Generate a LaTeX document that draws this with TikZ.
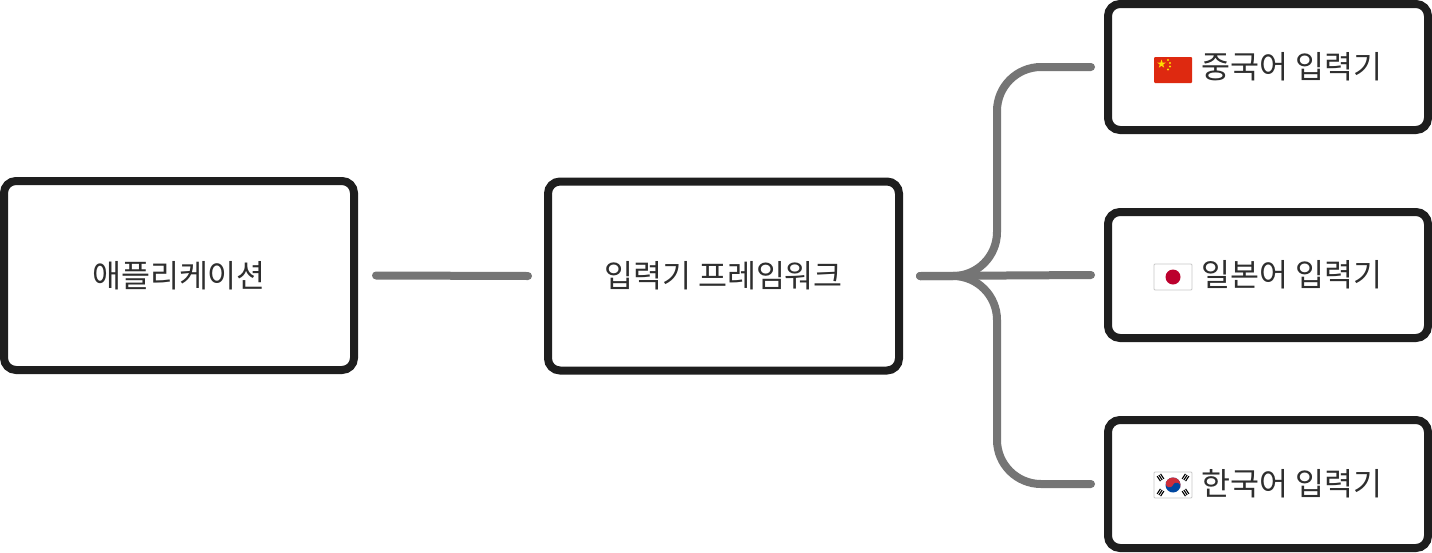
\documentclass[tikz,border=0pt]{standalone}
\usepackage{fontspec}
\setmainfont{Noto Sans CJK KR}
\usetikzlibrary{shapes.geometric}
\definecolor{boxline}{HTML}{1E1E1E}
\definecolor{conncol}{HTML}{757575}
\definecolor{txtcol}{HTML}{2E2E2E}
\definecolor{cnred}{HTML}{DE2910}
\definecolor{cnyel}{HTML}{FFDE00}
\definecolor{jpred}{HTML}{BC002D}
\definecolor{krred}{HTML}{CD2E3A}
\definecolor{krblue}{HTML}{0047A0}
\definecolor{flagedge}{HTML}{C8C8C8}
\newcommand{\krtrigram}[3]{%
  \begin{scope}[shift={(#1,#2)},rotate=#3]
    \fill[black] (-3,-2.6) rectangle (3,-1.5);
    \fill[black] (-3,-0.55) rectangle (3,0.55);
    \fill[black] (-3,1.5) rectangle (3,2.6);
  \end{scope}}
\begin{document}
\begin{tikzpicture}[x=1pt,y=-1pt,
  box/.style={draw=boxline, line width=8pt, rounded corners=12pt, fill=white,
    text=txtcol, font=\fontsize{31.5}{38}\selectfont, inner sep=0pt},
  bigbox/.style={box, minimum width=350pt, minimum height=189pt},
  langbox/.style={box, minimum width=320pt, minimum height=126pt},
  conn/.style={draw=conncol, line width=8pt, line cap=round},
  branch/.style={conn, rounded corners=44pt},
  flagrect/.style={line width=0.8pt, rounded corners=1pt}]
\useasboundingbox (0,0) rectangle (1432,552);
\fill[white] (0,0) rectangle (1432,552);

\node[bigbox] (app) at (179,275.5) {애플리케이션};
\node[bigbox, minimum width=351pt] (ime) at (723.5,276) {입력기 프레임워크};
\node[langbox] (cn) at (1268,67) {\hspace{48pt}중국어 입력기};
\node[langbox] (jp) at (1268,275) {\hspace{48pt}일본어 입력기};
\node[langbox, minimum height=128pt] (kr) at (1268,484) {\hspace{48pt}한국어 입력기};

% connectors
\draw[conn] ([xshift=18pt]app.east) -- ([xshift=-16pt]ime.west);
\coordinate (start) at ([xshift=17pt]ime.east);
\coordinate (trunk) at (997,276);
\coordinate (cnend) at ([xshift=-13pt]cn.west);
\coordinate (jpend) at ([xshift=-13pt]jp.west);
\coordinate (krend) at ([xshift=-13pt]kr.west);
\draw[branch] (start) -- (trunk |- start) -- (trunk |- cnend) -- (cnend);
\draw[branch] (start) -- (trunk |- start) -- (trunk |- krend) -- (krend);
\draw[conn] (start) -- (jpend);

% China flag
\begin{scope}[shift={(1173,70)}]
  \fill[cnred, flagrect] (-19,-13) rectangle (19,13);
  \node[star, star points=5, star point ratio=2.6, fill=cnyel, inner sep=0pt, minimum size=9pt] (cnstar) at (-11.5,-6) {};
  \fill[cnyel] (-5,-10) circle (1.1);
  \fill[cnyel] (-3,-7) circle (1.1);
  \fill[cnyel] (-3,-3.5) circle (1.1);
  \fill[cnyel] (-5,-0.5) circle (1.1);
\end{scope}

% Japan flag
\begin{scope}[shift={(1173,277)}]
  \filldraw[fill=white, draw=flagedge, flagrect] (-19,-13) rectangle (19,13);
  \fill[jpred] (0,0) circle (7.5);
\end{scope}

% Korea flag
\begin{scope}[shift={(1173,485)}]
  \filldraw[fill=white, draw=flagedge, flagrect] (-19,-13) rectangle (19,13);
  \begin{scope}[rotate=-20]
    \fill[krblue] (0,0) circle (7.5);
    \fill[krred] (7.5,0) arc (0:-180:7.5) -- cycle;
    \fill[krred] (-3.75,0) circle (3.75);
    \fill[krblue] (3.75,0) circle (3.75);
  \end{scope}
  \krtrigram{-12.5}{-7.5}{-57}
  \krtrigram{12.5}{-7.5}{57}
  \krtrigram{-12.5}{7.5}{57}
  \krtrigram{12.5}{7.5}{-57}
\end{scope}
\end{tikzpicture}
\end{document}
